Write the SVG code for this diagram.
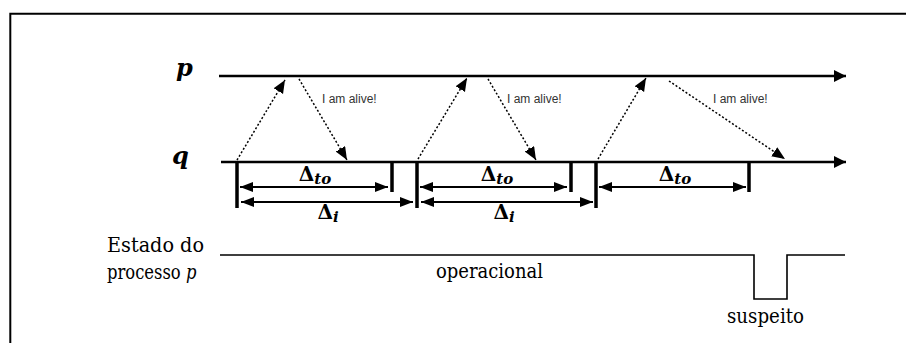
<svg xmlns="http://www.w3.org/2000/svg" width="906" height="343" viewBox="0 0 906 343">
<style>
.axis{stroke:#000;stroke-width:2.5;fill:none}
.bar{stroke:#000;stroke-width:3.5}
.span{stroke:#000;stroke-width:1.8;fill:none}
.msg{stroke:#000;stroke-width:1.5;stroke-dasharray:2 2;fill:none}
.state{stroke:#000;stroke-width:1.6;fill:none}
.serif{font-family:'DejaVu Serif',serif}
.lbl{font-weight:bold;font-style:italic;font-size:24px;fill:#000}
.msgtxt{font-family:'Liberation Sans',Arial,sans-serif;font-size:12px;fill:#333}
.delta{font-weight:bold;font-size:20px;fill:#000}
.sub{font-style:italic;font-size:15px}
.txt{font-size:21px;fill:#000}
</style>
<defs>
<marker id="bigArrow" markerUnits="userSpaceOnUse" markerWidth="13" markerHeight="12" refX="12" refY="6" orient="auto"><path d="M0,0 L12,6 L0,12 z" fill="#000"/></marker>
<marker id="msgArrow" markerUnits="userSpaceOnUse" markerWidth="14" markerHeight="12" refX="13" refY="5.5" orient="auto"><path d="M0,0 L13,5.5 L0,11 z" fill="#000"/></marker>
<marker id="spanArrow" markerUnits="userSpaceOnUse" markerWidth="14" markerHeight="11" refX="13" refY="5" orient="auto-start-reverse"><path d="M0,0 L13,5 L0,10 z" fill="#000"/></marker>
</defs>
<rect x="0" y="0" width="906" height="343" fill="#fff"/>
<path d="M10.3,343 V13.7 H906" stroke="#000" stroke-width="2" fill="none"/>

<g id="process-p">
<line class="axis" x1="219" y1="76" x2="846" y2="76" marker-end="url(#bigArrow)"/>
<text class="serif lbl" x="176" y="76">p</text>
</g>
<g id="process-q">
<line class="axis" x1="221" y1="162" x2="846" y2="162" marker-end="url(#bigArrow)"/>
<text class="serif lbl" x="172" y="164">q</text>
</g>

<g id="ticks">
<line class="bar" x1="237" y1="161" x2="237" y2="208"/>
<line class="bar" x1="417" y1="161" x2="417" y2="208"/>
<line class="bar" x1="596" y1="161" x2="596" y2="208"/>
<line class="bar" x1="392" y1="161" x2="392" y2="192"/>
<line class="bar" x1="571" y1="161" x2="571" y2="192"/>
<line class="bar" x1="749" y1="161" x2="749" y2="192"/>
</g>

<g id="connectors">
<line class="msg" x1="237" y1="160" x2="285" y2="80" marker-end="url(#msgArrow)"/>
<line class="msg" x1="299" y1="79" x2="347" y2="160" marker-end="url(#msgArrow)"/>
<line class="msg" x1="418" y1="159" x2="467" y2="78" marker-end="url(#msgArrow)"/>
<line class="msg" x1="488" y1="79" x2="536" y2="160" marker-end="url(#msgArrow)"/>
<line class="msg" x1="598" y1="159" x2="646" y2="78" marker-end="url(#msgArrow)"/>
<line class="msg" x1="669" y1="81" x2="785" y2="159" marker-end="url(#msgArrow)"/>
<line class="span" x1="240" y1="187" x2="388" y2="187" marker-start="url(#spanArrow)" marker-end="url(#spanArrow)"/>
<line class="span" x1="420" y1="187" x2="567" y2="187" marker-start="url(#spanArrow)" marker-end="url(#spanArrow)"/>
<line class="span" x1="599" y1="187" x2="746" y2="187" marker-start="url(#spanArrow)" marker-end="url(#spanArrow)"/>
<line class="span" x1="241" y1="202" x2="413" y2="202" marker-start="url(#spanArrow)" marker-end="url(#spanArrow)"/>
<line class="span" x1="421" y1="202" x2="593" y2="202" marker-start="url(#spanArrow)" marker-end="url(#spanArrow)"/>
</g>

<g id="messages">
<text class="msgtxt" x="322" y="103">I am alive!</text>
<text class="msgtxt" x="507" y="103">I am alive!</text>
<text class="msgtxt" x="713" y="103">I am alive!</text>
</g>

<g id="delta-labels">
<text class="serif delta" x="315" y="181" text-anchor="middle">Δ<tspan class="sub" dy="3">to</tspan></text>
<text class="serif delta" x="497" y="181" text-anchor="middle">Δ<tspan class="sub" dy="3">to</tspan></text>
<text class="serif delta" x="675" y="181" text-anchor="middle">Δ<tspan class="sub" dy="3">to</tspan></text>
<text class="serif delta" x="328" y="219" text-anchor="middle">Δ<tspan class="sub" dy="3">i</tspan></text>
<text class="serif delta" x="504" y="219" text-anchor="middle">Δ<tspan class="sub" dy="3">i</tspan></text>
</g>

<g id="state">
<path class="state" d="M220,255 H754 V299 H787 V255 H845"/>
<text class="serif txt" x="107" y="252" textLength="97" lengthAdjust="spacingAndGlyphs">Estado do</text>
<text class="serif txt" x="0" y="0" font-size="20" transform="translate(107 279) scale(0.78 1)">processo <tspan font-style="italic">p</tspan></text>
<text class="serif txt" x="436" y="278" textLength="107" lengthAdjust="spacingAndGlyphs">operacional</text>
<text class="serif txt" x="727" y="323" textLength="77" lengthAdjust="spacingAndGlyphs">suspeito</text>
</g>
</svg>
